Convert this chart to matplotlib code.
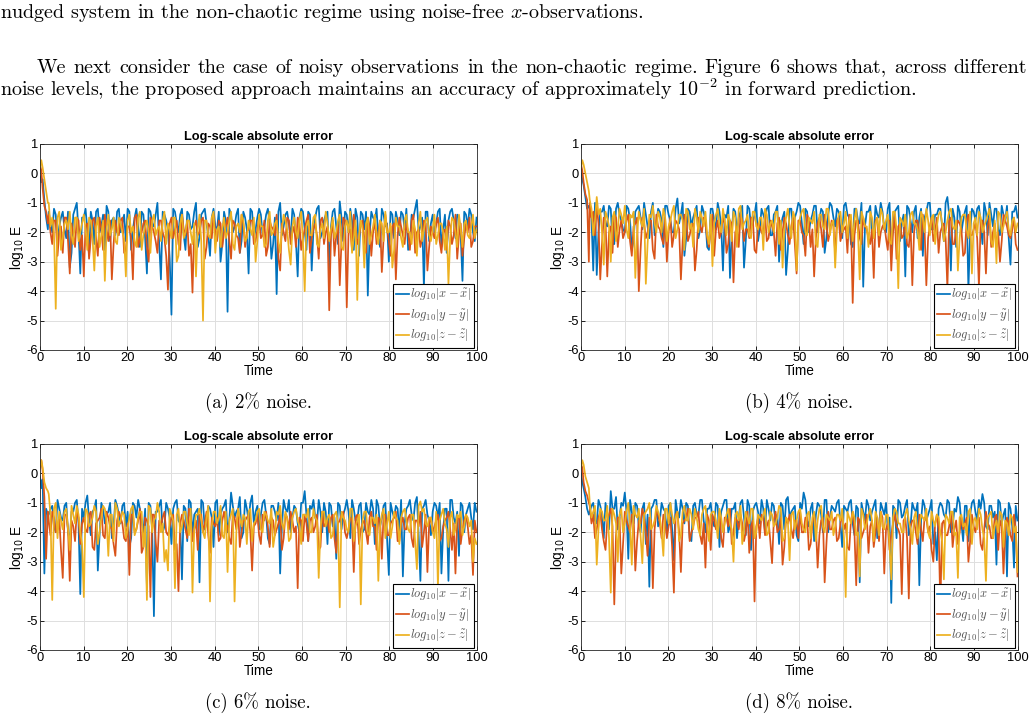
import numpy as np
import matplotlib
matplotlib.use("Agg")
import matplotlib.pyplot as plt

plt.rcParams["font.family"] = ["Liberation Sans", "DejaVu Sans"]
plt.rcParams["axes.unicode_minus"] = False

W, H = 1034, 718
SERIF = ["cmr10", "DejaVu Serif"]

# time grid: dense over the initial transient, then roughly every 0.8,
# plus a second set of samples half-way between the regular ones
T_START = [0, 0.3, 0.6, 1.0, 1.4, 1.8]
T_REST = np.linspace(2, 100, 123)
T_MID = (T_REST[:-1] + T_REST[1:]) / 2

# ---- (a) 2% noise ----
X_ERR_2 = [-0.1, -0.3, -0.2, -0.9, -1.5, -1.9,
           -1.3, -2.0, -1.4, -1.8, -1.3, -2.2, -3.2, -1.4, -1.0, -3.4,
           -1.5, -1.9, -1.3, -2.4, -1.2, -1.8, -2.6, -1.3, -1.6, -2.1,
           -1.2, -1.7, -2.3, -1.3, -1.9, -1.2, -2.5, -1.4, -3.4, -1.3,
           -1.8, -1.0, -3.6, -1.4, -1.9, -4.8, -1.3, -2.0, -1.2, -2.6,
           -1.4, -1.8, -1.0, -2.2, -1.3, -1.7, -2.8, -1.2, -1.9, -3.0,
           -1.3, -4.7, -1.4, -1.8, -1.2, -2.3, -1.5, -3.4, -1.3, -1.9,
           -1.2, -2.1, -1.4, -1.7, -2.4, -4.1, -1.0, -1.8, -1.3, -2.2,
           -1.4, -3.5, -1.2, -1.9, -1.3, -3.3, -1.5, -1.1, -2.0, -1.4,
           -3.3, -1.3, -1.8, -0.95, -2.3, -1.4, -1.2, -2.6, -1.5, -1.3,
           -1.9, -4.15, -1.3, -1.6, -2.2, -1.2, -1.8, -3.0, -1.4, -1.3,
           -2.1, -1.4, -1.2, -2.4, -1.5, -0.9, -1.8, -3.9, -1.3, -1.7,
           -2.0, -1.3, -2.5, -1.4, -1.6, -1.2, -2.2, -1.5, -3.65, -1.4,
           -1.2, -2.0, -1.5]
X_MID_2 = [-1.7, -1.2, -2.3, -1.5, -1.9, -1.3, -2.7, -1.2, -2.0, -1.5,
           -1.2, -2.8, -1.6, -1.3, -2.0, -1.4, -1.1, -2.3, -1.5, -1.3,
           -2.0, -1.4, -1.2, -2.6, -1.5, -1.8, -1.3, -2.2, -1.2, -1.7,
           -1.4, -2.4, -1.3, -1.6, -2.9, -1.2, -1.7, -1.4, -2.1, -1.3,
           -1.9, -1.3, -2.5, -1.4, -1.2, -2.1, -1.5, -1.8, -1.3, -2.4,
           -1.6, -1.2, -2.0, -1.4, -2.7, -1.3, -1.9, -1.2, -2.2, -1.5,
           -1.4, -1.8, -1.2, -2.9, -1.5, -1.3, -2.1, -1.4, -1.7, -1.2,
           -2.3, -1.5, -1.3, -2.6, -1.4, -1.9, -1.2, -2.2, -1.6, -1.3,
           -1.8, -1.2, -2.4, -1.5, -1.3, -2.0, -1.6, -1.2, -2.8, -1.4,
           -1.3, -2.1, -1.5, -1.2, -2.5, -1.4, -1.7, -1.3, -2.2, -1.6,
           -1.3, -1.9, -2.6, -1.4, -1.2, -2.0, -1.5, -1.3, -2.3, -1.4,
           -1.7, -1.2, -1.9, -2.7, -1.3, -1.6, -1.4, -2.1, -1.3, -1.8,
           -1.4, -2.3]
Y_ERR_2 = [0.3, 0.1, -0.5, -1.1, -1.3, -1.7,
           -1.4, -2.4, -1.6, -2.0, -2.7, -1.5, -3.4, -2.1, -1.5, -2.6,
           -3.5, -1.7, -2.2, -1.5, -2.8, -1.9, -1.4, -2.3, -3.6, -1.6,
           -2.1, -1.5, -2.6, -1.8, -3.6, -1.4, -2.2, -1.7, -2.5, -1.5,
           -2.0, -2.7, -1.6, -2.2, -3.95, -1.5, -1.9, -2.4, -1.4, -2.1,
           -2.8, -4.05, -1.6, -2.0, -1.5, -2.5, -1.8, -1.4, -2.3, -1.7,
           -2.0, -1.5, -2.9, -1.7, -2.2, -1.4, -2.5, -1.9, -1.6, -2.3,
           -1.5, -2.1, -2.8, -1.6, -1.9, -1.4, -3.3, -2.0, -1.5, -2.4,
           -1.8, -1.5, -2.6, -1.9, -1.4, -2.2, -1.7, -2.9, -1.5, -2.0,
           -4.65, -1.6, -2.1, -3.8, -1.5, -4.55, -1.9, -1.4, -2.4, -1.7,
           -2.2, -1.5, -2.8, -1.6, -2.0, -3.35, -1.4, -2.3, -1.8, -3.6,
           -1.5, -2.1, -1.7, -2.6, -1.4, -2.0, -2.5, -1.6, -3.3, -1.8,
           -2.2, -1.5, -2.7, -1.9, -1.6, -2.4, -1.4, -2.1, -2.8, -1.7,
           -1.5, -2.3, -1.8]
Y_MID_2 = [-2.0, -1.6, -2.8, -1.8, -1.5, -2.3, -1.7, -2.5, -1.6, -2.1,
           -1.8, -2.9, -1.6, -2.2, -1.5, -2.6, -1.9, -1.6, -2.4, -2.0,
           -1.6, -2.7, -1.8, -2.2, -1.5, -2.5, -2.0, -1.6, -3.0, -1.8,
           -2.3, -1.6, -2.0, -2.8, -1.7, -2.2, -1.6, -2.6, -1.9, -1.6,
           -2.4, -1.8, -2.1, -1.6, -2.9, -1.7, -2.2, -2.0, -1.6, -2.5,
           -1.8, -2.3, -1.6, -2.1, -2.7, -1.7, -2.0, -1.6, -2.4, -1.9,
           -2.2, -1.6, -2.5, -1.8, -2.1, -2.9, -1.7, -2.3, -1.6, -2.0,
           -2.5, -1.7, -2.2, -1.6, -2.7, -1.9, -2.1, -1.6, -2.4, -1.8,
           -2.1, -2.8, -1.7, -2.3, -1.6, -2.0, -2.6, -1.8, -2.2, -1.6,
           -2.7, -1.8, -2.0, -2.4, -1.6, -2.2, -1.9, -2.8, -1.7, -2.1,
           -1.8, -2.4, -2.0, -1.6, -2.7, -1.9, -2.2, -1.7, -2.5, -2.0,
           -1.7, -2.3, -2.0, -2.6, -1.8, -2.1, -2.9, -1.7, -2.2, -2.0,
           -2.5, -1.8]
Z_ERR_2 = [0.2, 0.45, 0.2, -0.2, -0.6, -1.0,
           -1.0, -1.5, -4.6, -1.3, -2.2, -1.6, -1.3, -2.4, -1.5, -2.0,
           -1.4, -2.6, -1.6, -3.3, -1.5, -2.1, -3.65, -1.4, -1.9, -2.3,
           -1.5, -2.0, -3.5, -1.4, -1.8, -2.5, -1.3, -2.1, -1.6, -2.7,
           -1.4, -1.9, -2.3, -1.3, -1.7, -2.2, -1.5, -2.8, -1.4, -2.0,
           -1.6, -2.4, -3.5, -1.4, -5.0, -1.6, -2.2, -1.3, -1.9, -2.5,
           -1.5, -2.0, -1.3, -2.6, -1.7, -1.4, -2.3, -1.6, -2.1, -3.0,
           -1.4, -1.8, -2.4, -1.3, -2.0, -1.6, -2.7, -1.4, -1.9, -3.1,
           -1.5, -2.2, -1.3, -4.0, -1.6, -2.1, -1.4, -2.5, -1.7, -1.3,
           -2.3, -1.5, -2.0, -1.4, -2.6, -1.6, -1.3, -2.2, -4.3, -1.6,
           -3.2, -1.5, -2.1, -1.4, -2.4, -1.7, -1.3, -2.0, -3.2, -1.5,
           -1.8, -2.5, -1.4, -2.0, -1.6, -2.8, -1.3, -1.9, -1.5, -2.3,
           -1.4, -2.1, -1.7, -2.6, -3.75, -1.5, -2.0, -1.4, -2.5, -1.6,
           -2.2, -1.4, -1.9]
Z_MID_2 = [-1.8, -2.0, -1.5, -2.6, -1.7, -1.9, -2.1, -1.5, -2.3, -1.7,
           -1.9, -1.5, -2.2, -1.8, -2.5, -1.6, -1.9, -2.1, -1.5, -2.4,
           -1.7, -2.2, -1.6, -2.0, -2.3, -1.5, -2.6, -1.8, -2.0, -1.6,
           -2.1, -1.8, -1.6, -2.4, -1.9, -1.5, -3.0, -1.7, -2.2, -1.6,
           -2.0, -1.7, -1.9, -2.3, -1.6, -2.1, -1.5, -2.7, -1.8, -1.9,
           -2.2, -1.6, -2.4, -1.8, -2.0, -1.6, -2.2, -1.9, -1.5, -2.3,
           -1.8, -2.5, -1.6, -2.1, -1.7, -2.3, -1.9, -1.6, -2.6, -1.8,
           -2.0, -1.6, -2.3, -1.8, -2.1, -1.5, -2.4, -1.9, -2.2, -1.7,
           -1.9, -2.2, -1.6, -2.5, -1.8, -2.0, -2.7, -1.6, -2.1, -1.9,
           -1.7, -2.4, -1.8, -2.1, -1.6, -2.3, -2.0, -1.7, -2.6, -1.8,
           -2.2, -1.6, -2.0, -2.4, -1.9, -1.7, -2.3, -1.6, -2.1, -1.9,
           -2.4, -1.7, -2.0, -1.8, -2.2, -1.6, -2.5, -1.9, -1.7, -2.1,
           -1.8, -2.2]

# ---- (b) 4% noise ----
X_ERR_4 = [0.0, -0.2, -0.4, -0.8, -1.2, -1.1,
           -1.2, -3.3, -3.45, -1.3, -1.1, -1.8, -1.2, -2.4, -1.0, -1.6,
           -2.0, -1.2, -2.6, -1.3, -1.1, -1.9, -1.4, -2.2, -1.0, -1.7,
           -1.3, -2.5, -1.1, -1.6, -2.0, -0.85, -1.4, -2.8, -1.2, -1.8,
           -1.3, -2.2, -1.1, -1.6, -2.6, -1.2, -1.9, -1.3, -3.3, -1.5,
           -3.55, -1.2, -2.0, -1.3, -3.2, -1.1, -1.8, -1.4, -2.3, -1.2,
           -1.6, -1.1, -2.1, -1.3, -3.0, -1.5, -3.45, -1.2, -1.9, -1.3,
           -1.1, -2.4, -1.3, -1.6, -1.1, -2.0, -1.2, -2.7, -1.4, -1.1,
           -1.8, -1.3, -2.2, -1.0, -1.5, -2.5, -1.2, -1.7, -3.85, -1.3,
           -1.1, -2.1, -1.4, -1.0, -1.9, -1.2, -2.6, -1.3, -1.1, -1.7,
           -3.5, -1.2, -2.0, -1.1, -1.5, -2.8, -1.3, -1.0, -1.9, -1.4,
           -1.2, -2.3, -0.8, -3.3, -1.5, -1.1, -2.0, -1.3, -3.95, -1.2,
           -1.6, -1.1, -2.4, -1.3, -1.0, -1.8, -1.2, -2.1, -1.4, -1.1,
           -3.1, -1.3, -1.5]
X_MID_4 = [-1.5, -1.0, -2.0, -1.3, -1.7, -1.1, -2.4, -1.2, -1.4, -1.9,
           -1.1, -1.6, -2.3, -1.2, -1.5, -1.0, -1.8, -1.3, -2.1, -1.2,
           -1.6, -1.1, -1.4, -2.0, -1.2, -1.7, -1.0, -2.2, -1.3, -1.5,
           -1.1, -1.9, -1.3, -2.5, -1.2, -1.6, -1.0, -1.8, -1.4, -1.1,
           -2.0, -1.3, -1.5, -1.1, -2.3, -1.2, -1.7, -1.0, -1.9, -1.4,
           -1.2, -2.1, -1.4, -1.1, -1.8, -1.3, -2.6, -1.2, -1.5, -1.0,
           -1.7, -1.2, -2.0, -1.4, -1.1, -1.6, -1.3, -2.2, -1.0, -1.5,
           -1.2, -1.9, -1.1, -1.4, -2.4, -1.2, -1.6, -1.0, -1.8, -1.3,
           -2.1, -1.1, -1.5, -1.3, -2.0, -1.0, -1.7, -1.2, -2.3, -1.4,
           -1.1, -1.6, -1.3, -2.2, -1.2, -1.5, -1.0, -1.9, -1.4, -1.2,
           -1.8, -1.0, -1.4, -1.2, -2.5, -1.3, -1.6, -1.1, -2.0, -1.3,
           -1.2, -1.7, -1.0, -2.1, -1.4, -1.2, -1.9, -1.1, -1.6, -2.2,
           -1.3, -1.1]
Y_ERR_4 = [0.3, 0.1, -0.3, -0.7, -0.9, -3.0,
           -1.0, -1.3, -1.1, -3.6, -1.5, -3.5, -1.8, -1.4, -2.5, -1.6,
           -2.0, -1.4, -2.8, -1.7, -4.0, -1.5, -2.2, -1.6, -2.6, -1.4,
           -1.9, -2.4, -3.0, -1.5, -2.1, -1.7, -3.6, -1.4, -2.3, -1.8,
           -3.3, -1.5, -2.0, -1.7, -2.5, -1.4, -1.9, -2.2, -1.5, -2.7,
           -1.6, -3.7, -1.8, -1.4, -2.3, -1.9, -1.5, -2.6, -1.7, -2.0,
           -1.4, -2.2, -1.8, -2.8, -1.5, -2.0, -1.7, -2.4, -1.5, -3.4,
           -1.6, -2.1, -1.4, -2.5, -3.5, -1.7, -1.9, -1.4, -2.3, -1.6,
           -2.7, -1.5, -2.0, -1.8, -1.4, -4.4, -1.6, -2.2, -1.5, -1.9,
           -2.4, -3.55, -1.5, -2.0, -1.7, -2.6, -3.3, -1.4, -1.8, -2.2,
           -1.5, -2.5, -3.8, -1.6, -2.0, -1.4, -3.8, -1.8, -2.3, -1.5,
           -2.0, -1.7, -3.9, -1.5, -2.4, -1.6, -1.9, -2.7, -1.4, -2.1,
           -1.7, -3.85, -1.6, -3.4, -1.5, -2.0, -2.5, -3.0, -1.4, -1.8,
           -2.2, -1.5, -2.6]
Y_MID_4 = [-1.5, -2.1, -1.7, -2.4, -1.6, -2.0, -2.7, -1.5, -1.9, -2.2,
           -1.6, -2.3, -1.8, -1.5, -2.6, -1.7, -2.0, -1.6, -2.9, -1.8,
           -2.2, -1.5, -2.0, -2.5, -1.6, -1.9, -2.3, -1.5, -2.1, -1.7,
           -2.6, -1.8, -1.5, -2.2, -1.9, -2.8, -1.6, -2.0, -1.7, -2.4,
           -1.7, -2.0, -2.5, -1.6, -1.9, -2.2, -1.5, -2.7, -1.8, -2.1,
           -2.3, -1.6, -2.0, -1.7, -2.6, -1.5, -2.1, -1.8, -2.4, -1.6,
           -2.0, -2.8, -1.6, -1.9, -2.2, -1.5, -2.5, -1.7, -2.0, -1.8,
           -1.6, -2.3, -1.9, -2.7, -1.7, -2.1, -1.6, -2.4, -1.8, -2.2,
           -1.9, -1.6, -2.5, -1.8, -2.2, -1.6, -2.0, -2.9, -1.7, -2.1,
           -2.4, -1.7, -2.0, -1.6, -2.6, -1.9, -2.2, -1.5, -2.0, -2.7,
           -1.8, -2.2, -1.6, -2.4, -1.9, -1.7, -2.8, -1.6, -2.1, -1.9,
           -2.2, -1.6, -2.0, -1.8, -2.5, -1.7, -2.0, -2.3, -1.6, -2.1,
           -1.9, -2.4]
Z_ERR_4 = [0.2, 0.45, 0.3, 0.0, -0.3, -0.6,
           -0.9, -2.1, -0.8, -1.2, -3.1, -1.5, -3.0, -1.3, -1.9, -1.4,
           -1.1, -2.2, -1.5, -3.55, -1.3, -1.8, -3.75, -1.4, -1.1, -2.0,
           -1.5, -1.2, -2.3, -1.6, -1.1, -1.9, -1.4, -2.6, -1.3, -1.7,
           -1.2, -2.0, -1.5, -1.3, -2.4, -3.15, -1.4, -1.8, -1.2, -2.1,
           -1.6, -1.3, -2.5, -1.1, -1.7, -1.4, -2.2, -1.3, -1.9, -1.5,
           -1.2, -2.0, -1.6, -1.3, -2.4, -3.2, -1.5, -1.8, -1.3, -3.3,
           -1.5, -1.2, -2.1, -1.6, -1.3, -2.5, -1.4, -1.9, -1.2, -1.7,
           -3.2, -1.4, -2.0, -1.3, -1.6, -2.3, -1.2, -3.6, -1.5, -1.8,
           -1.3, -2.2, -1.5, -1.2, -1.9, -1.4, -2.4, -1.3, -3.9, -1.6,
           -1.4, -2.0, -1.3, -1.7, -2.6, -1.5, -1.2, -2.1, -1.4, -1.8,
           -1.3, -2.3, -1.6, -1.2, -1.9, -3.3, -1.5, -1.4, -2.2, -3.4,
           -1.5, -1.3, -2.0, -1.6, -1.2, -2.5, -3.05, -1.4, -1.8, -1.3,
           -2.1, -1.5, -1.7]
Z_MID_4 = [-1.2, -1.6, -1.4, -2.0, -1.3, -1.8, -1.5, -2.3, -1.2, -1.7,
           -1.9, -1.4, -1.3, -2.1, -1.6, -1.2, -2.4, -1.5, -1.7, -1.3,
           -2.0, -1.5, -1.8, -1.3, -2.2, -1.4, -1.6, -1.2, -1.9, -2.5,
           -1.5, -1.3, -1.8, -2.1, -1.4, -1.7, -1.2, -2.0, -1.6, -1.4,
           -2.3, -1.5, -1.2, -1.9, -1.6, -2.1, -1.3, -1.8, -1.5, -2.6,
           -1.4, -1.7, -2.0, -1.3, -1.6, -1.9, -1.2, -2.2, -1.5, -1.8,
           -1.3, -2.0, -1.5, -1.7, -2.4, -1.4, -1.8, -1.2, -2.1, -1.6,
           -1.9, -1.3, -1.7, -2.2, -1.4, -1.6, -2.0, -1.3, -1.8, -2.5,
           -1.5, -1.7, -2.1, -1.4, -1.6, -2.3, -1.3, -1.9, -1.5, -1.8,
           -2.2, -1.4, -1.7, -1.9, -1.3, -2.0, -1.6, -1.5, -2.4, -1.4,
           -1.7, -2.0, -1.3, -1.8, -1.6, -2.2, -1.4, -1.9, -1.3, -1.7,
           -2.1, -1.5, -1.8, -1.4, -2.3, -1.6, -1.3, -2.0, -1.5, -1.9,
           -1.6, -2.0]

# ---- (c) 6% noise ----
X_ERR_6 = [-0.1, -0.5, -0.2, -3.4, -1.2, -1.4,
           -1.4, -1.1, -2.0, -1.2, -1.6, -1.0, -2.3, -1.3, -0.9, -4.1,
           -1.5, -0.75, -2.1, -1.2, -3.3, -1.0, -1.7, -1.3, -2.2, -0.9,
           -1.4, -1.1, -1.8, -2.5, -1.0, -1.5, -1.2, -2.0, -3.85, -1.1,
           -4.85, -1.3, -0.9, -1.8, -1.2, -2.4, -1.0, -1.6, -3.6, -1.2,
           -0.9, -2.1, -1.3, -3.7, -1.0, -1.7, -1.2, -2.5, -0.9, -1.4,
           -1.1, -2.0, -0.65, -1.5, -1.2, -2.2, -0.9, -1.6, -0.75, -1.3,
           -1.9, -1.0, -1.4, -2.4, -1.1, -1.6, -3.4, -0.9, -1.3, -2.0,
           -1.1, -1.7, -1.0, -0.6, -2.3, -1.2, -1.5, -0.9, -2.0, -1.3,
           -1.0, -1.8, -2.9, -1.1, -1.4, -0.9, -2.2, -1.2, -1.6, -1.0,
           -1.9, -1.3, -0.9, -2.4, -1.1, -1.5, -1.0, -3.45, -1.3, -1.1,
           -2.0, -3.5, -1.2, -0.9, -1.6, -0.8, -3.65, -1.1, -1.4, -2.1,
           -1.0, -1.5, -3.4, -1.2, -3.65, -0.9, -1.7, -2.8, -1.1, -1.4,
           -1.0, -1.9, -1.3]
X_MID_6 = [-1.2, -1.8, -0.9, -1.5, -1.1, -2.0, -1.3, -1.0, -1.7, -1.2,
           -1.0, -1.6, -1.3, -0.9, -2.1, -1.2, -1.4, -1.0, -1.8, -1.1,
           -1.7, -1.0, -1.3, -2.2, -1.1, -0.9, -1.6, -1.2, -1.0, -1.9,
           -1.3, -1.1, -2.0, -1.0, -1.5, -1.2, -0.9, -1.7, -1.1, -2.3,
           -1.0, -1.4, -1.2, -0.9, -1.9, -1.1, -1.5, -1.0, -2.1, -1.2,
           -0.9, -1.6, -1.1, -1.3, -0.8, -2.0, -1.2, -1.0, -1.7, -1.1,
           -1.4, -0.9, -2.2, -1.1, -1.3, -1.0, -1.8, -1.2, -0.9, -1.5,
           -1.2, -2.0, -1.0, -1.4, -1.1, -0.9, -1.7, -1.3, -1.0, -2.4,
           -1.1, -1.5, -1.0, -1.9, -1.2, -1.3, -0.9, -1.6, -1.1, -2.0,
           -1.0, -1.4, -1.2, -0.9, -1.8, -1.1, -2.2, -1.0, -1.5, -1.2,
           -0.9, -1.7, -1.1, -1.4, -1.0, -2.1, -1.2, -0.9, -1.6, -1.3,
           -1.1, -1.0, -1.9, -1.2, -0.9, -1.5, -1.3, -1.0, -2.0, -1.2,
           -1.5, -1.0]
Y_ERR_6 = [0.3, 0.45, 0.1, -0.8, -2.9, -1.3,
           -1.6, -1.3, -2.0, -1.5, -3.55, -1.4, -3.65, -1.8, -1.3, -2.4,
           -1.5, -2.0, -1.3, -2.6, -1.6, -1.2, -2.2, -1.5, -1.9, -2.8,
           -1.3, -1.7, -2.3, -3.45, -1.4, -1.9, -1.2, -2.5, -1.6, -4.2,
           -1.4, -3.0, -1.8, -1.3, -2.1, -1.5, -2.6, -4.0, -1.4, -1.9,
           -1.2, -2.3, -1.6, -1.4, -2.0, -1.3, -2.7, -1.7, -1.5, -2.2,
           -1.3, -1.8, -2.4, -1.5, -1.2, -2.0, -1.6, -1.4, -3.3, -1.7,
           -2.1, -1.4, -1.3, -2.5, -1.6, -1.9, -1.4, -2.2, -1.5, -1.3,
           -2.0, -3.9, -1.6, -1.4, -2.3, -1.5, -1.8, -2.6, -1.3, -1.7,
           -2.0, -1.4, -2.7, -1.6, -1.3, -2.2, -1.5, -3.35, -1.4, -1.9,
           -1.6, -2.4, -1.3, -1.8, -1.5, -2.9, -1.4, -2.1, -1.6, -1.3,
           -2.3, -1.5, -1.9, -1.4, -2.5, -1.6, -1.3, -2.0, -3.35, -1.5,
           -1.8, -1.4, -2.2, -1.6, -1.3, -2.6, -3.4, -1.5, -1.9, -1.4,
           -2.4, -3.45, -2.0]
Y_MID_6 = [-2.1, -1.5, -1.8, -2.6, -1.4, -1.9, -1.6, -2.3, -1.5, -1.7,
           -1.9, -1.4, -2.5, -1.7, -1.5, -2.1, -1.3, -1.8, -2.4, -1.6,
           -1.5, -2.2, -1.7, -1.4, -2.0, -1.6, -2.7, -1.5, -1.8, -1.4,
           -2.3, -1.6, -1.5, -2.0, -1.8, -1.4, -2.4, -1.7, -1.6, -2.2,
           -1.5, -1.9, -2.6, -1.4, -1.7, -2.1, -1.5, -1.8, -2.3, -1.6,
           -1.7, -2.2, -1.4, -1.9, -2.5, -1.6, -1.5, -2.0, -1.8, -1.4,
           -2.4, -1.6, -1.8, -1.5, -2.1, -1.7, -2.6, -1.4, -1.9, -1.6,
           -1.8, -1.5, -2.3, -1.7, -1.6, -2.0, -1.4, -2.5, -1.8, -1.6,
           -1.5, -2.2, -1.7, -1.4, -2.0, -1.9, -1.6, -1.5, -2.4, -1.7,
           -2.0, -1.5, -1.8, -2.6, -1.6, -1.4, -2.1, -1.7, -1.5, -2.3,
           -1.7, -1.9, -1.5, -2.2, -1.6, -1.8, -2.5, -1.4, -1.7, -2.0,
           -1.6, -2.3, -1.8, -1.5, -1.9, -1.7, -1.5, -2.4, -1.6, -1.8,
           -2.1, -1.6]
Z_ERR_6 = [0.2, 0.45, 0.2, -0.3, -0.5, -0.6,
           -0.7, -4.3, -1.0, -1.3, -1.9, -1.2, -2.6, -1.4, -1.1, -2.0,
           -4.2, -1.3, -1.7, -1.1, -2.4, -1.5, -1.2, -2.8, -1.4, -1.0,
           -1.8, -1.3, -2.2, -1.5, -1.1, -1.9, -1.3, -2.5, -4.3, -1.2,
           -1.6, -1.0, -2.0, -3.0, -3.3, -1.4, -3.9, -1.2, -1.8, -1.3,
           -2.1, -4.05, -1.4, -1.2, -2.0, -1.5, -4.35, -1.3, -1.7, -1.1,
           -2.2, -3.35, -1.4, -4.35, -1.2, -1.8, -1.5, -1.3, -2.3, -1.6,
           -1.2, -2.0, -1.4, -1.7, -2.5, -1.3, -1.1, -1.9, -1.5, -2.2,
           -1.3, -1.6, -2.4, -1.4, -1.2, -2.0, -1.5, -3.55, -1.3, -1.8,
           -1.4, -2.1, -1.3, -4.55, -1.5, -1.9, -1.2, -2.3, -1.6, -4.45,
           -1.3, -2.0, -1.5, -1.7, -3.65, -1.4, -2.2, -1.3, -1.8, -1.5,
           -2.4, -1.3, -1.6, -2.0, -1.4, -3.25, -0.95, -1.2, -1.8, -1.5,
           -2.2, -3.85, -1.4, -1.7, -2.5, -1.3, -1.9, -1.5, -2.1, -1.4,
           -1.8, -3.0, -2.4]
Z_MID_6 = [-1.4, -1.2, -2.2, -1.6, -1.3, -1.9, -1.1, -1.7, -1.4, -2.4,
           -1.2, -1.8, -1.5, -1.3, -2.0, -1.1, -1.6, -1.4, -2.3, -1.2,
           -1.6, -1.4, -1.9, -1.2, -2.1, -1.5, -1.3, -1.8, -1.1, -2.0,
           -1.5, -1.3, -1.7, -2.6, -1.2, -1.6, -1.4, -2.0, -1.3, -1.7,
           -1.2, -1.9, -1.4, -1.6, -2.2, -1.1, -1.8, -1.3, -1.5, -2.1,
           -1.3, -1.6, -1.2, -2.0, -1.5, -1.4, -2.4, -1.2, -1.7, -1.3,
           -1.9, -1.3, -1.6, -1.2, -2.1, -1.4, -1.7, -1.3, -2.3, -1.5,
           -1.2, -1.8, -1.4, -1.5, -2.0, -1.2, -1.6, -1.9, -1.3, -1.5,
           -2.2, -1.4, -1.7, -1.3, -1.6, -2.0, -1.2, -1.8, -1.4, -1.6,
           -1.3, -2.1, -1.5, -1.4, -1.8, -1.2, -1.7, -2.2, -1.3, -1.6,
           -1.5, -1.2, -1.9, -1.4, -2.3, -1.1, -1.3, -1.7, -1.5, -2.0,
           -1.3, -1.6, -1.2, -1.9, -1.5, -2.1, -1.4, -1.3, -1.8, -1.5,
           -1.6, -2.2]

# ---- (d) 8% noise ----
X_ERR_8 = [0.0, -0.3, -0.5, -0.8, -1.2, -1.4,
           -1.3, -1.0, -1.7, -1.1, -2.2, -1.4, -0.6, -1.2, -1.9, -1.0,
           -0.65, -2.9, -1.3, -1.0, -1.8, -1.2, -2.4, -3.85, -1.1, -0.9,
           -1.6, -1.2, -2.1, -1.0, -2.95, -1.3, -0.9, -1.7, -1.1, -2.3,
           -1.0, -1.4, -0.9, -2.0, -1.2, -1.6, -1.0, -2.5, -1.1, -0.9,
           -1.8, -1.2, -2.2, -1.0, -1.5, -0.9, -2.6, -1.1, -1.3, -0.9,
           -2.0, -1.2, -1.0, -1.7, -2.4, -1.1, -0.9, -1.5, -1.2, -2.1,
           -1.0, -0.65, -1.6, -1.2, -2.3, -1.0, -1.4, -0.9, -2.0, -1.1,
           -1.3, -0.9, -2.5, -1.2, -1.0, -1.7, -1.1, -3.7, -1.3, -0.9,
           -1.6, -1.1, -2.2, -1.0, -1.4, -1.9, -4.4, -1.2, -0.9, -1.5,
           -1.1, -2.1, -1.0, -1.3, -3.8, -0.9, -1.6, -1.2, -2.4, -2.95,
           -1.0, -1.4, -0.9, -2.0, -1.2, -0.8, -1.7, -1.1, -2.3, -1.0,
           -1.3, -0.9, -0.7, -1.8, -1.1, -1.5, -3.1, -1.0, -1.4, -3.5,
           -1.2, -3.2, -1.6]
X_MID_8 = [-1.1, -1.6, -0.9, -1.4, -1.0, -1.9, -1.2, -0.8, -1.5, -1.1,
           -1.3, -0.9, -1.7, -1.1, -2.0, -1.0, -1.4, -1.2, -0.9, -1.8,
           -1.0, -1.3, -1.1, -1.9, -0.9, -1.5, -1.2, -1.0, -2.2, -1.1,
           -1.4, -0.9, -1.6, -1.2, -1.0, -1.8, -1.1, -1.3, -0.9, -2.0,
           -1.2, -1.0, -1.5, -0.9, -2.1, -1.1, -1.3, -1.0, -1.7, -1.2,
           -0.9, -1.6, -1.1, -1.4, -1.0, -1.9, -0.8, -1.3, -1.1, -2.3,
           -1.2, -0.9, -1.8, -1.0, -1.4, -1.1, -2.0, -0.9, -1.5, -1.2,
           -1.0, -1.7, -1.1, -1.3, -0.9, -2.1, -1.2, -1.0, -1.6, -1.1,
           -1.3, -0.9, -1.9, -1.2, -1.0, -1.5, -1.1, -2.2, -1.0, -1.4,
           -0.9, -1.8, -1.2, -1.0, -1.6, -1.1, -1.4, -0.9, -2.0, -1.2,
           -1.1, -1.5, -1.0, -1.8, -1.3, -1.0, -2.3, -1.1, -1.4, -0.9,
           -1.6, -1.2, -1.0, -1.9, -1.1, -1.3, -0.9, -1.7, -1.2, -1.0,
           -1.8, -1.1]
Y_ERR_8 = [0.3, 0.2, -0.3, -0.6, -0.75, -1.0,
           -1.1, -1.4, -1.9, -1.3, -2.3, -1.6, -1.2, -4.45, -1.5, -3.4,
           -1.3, -1.8, -1.4, -3.3, -1.6, -1.2, -2.0, -1.5, -3.9, -1.3,
           -1.7, -1.4, -2.2, -1.5, -4.05, -1.3, -3.35, -1.6, -1.2, -2.0,
           -1.5, -1.3, -2.4, -3.2, -1.6, -1.4, -1.9, -1.3, -2.5, -1.5,
           -1.2, -2.0, -1.6, -1.4, -2.3, -1.3, -1.8, -4.35, -1.5, -1.4,
           -2.1, -1.6, -3.05, -1.3, -1.9, -3.1, -1.5, -1.4, -2.2, -1.6,
           -1.3, -2.0, -1.5, -2.4, -1.4, -3.2, -1.6, -3.7, -1.3, -1.9,
           -1.5, -2.2, -1.4, -1.7, -2.6, -1.3, -3.8, -1.6, -2.0, -1.4,
           -1.8, -2.5, -1.5, -1.3, -3.4, -1.7, -2.1, -1.4, -1.9, -4.1,
           -1.5, -4.25, -1.6, -2.0, -1.4, -2.3, -1.5, -1.8, -3.0, -1.4,
           -4.55, -1.6, -2.1, -1.3, -1.9, -2.4, -1.5, -1.7, -3.0, -1.4,
           -2.0, -1.5, -2.6, -1.3, -1.8, -2.2, -1.4, -1.6, -3.4, -1.5,
           -2.1, -1.4, -3.5]
Y_MID_8 = [-1.7, -2.2, -1.5, -1.9, -2.6, -1.4, -1.8, -2.1, -1.5, -2.4,
           -1.6, -2.0, -1.4, -2.3, -1.7, -1.5, -2.8, -1.6, -1.9, -1.4,
           -2.2, -1.6, -1.8, -2.5, -1.4, -2.0, -1.7, -1.5, -2.3, -1.8,
           -1.5, -2.1, -1.7, -1.4, -2.6, -1.6, -1.9, -2.2, -1.5, -1.8,
           -2.4, -1.5, -1.9, -1.7, -2.0, -2.7, -1.6, -1.8, -2.2, -1.5,
           -1.8, -2.3, -1.6, -2.0, -1.5, -2.5, -1.7, -1.9, -1.6, -2.2,
           -2.0, -1.5, -2.6, -1.7, -1.8, -2.1, -1.5, -2.4, -1.9, -1.6,
           -2.3, -1.7, -1.9, -2.5, -1.6, -2.0, -1.5, -2.2, -1.8, -2.7,
           -1.6, -2.0, -2.3, -1.5, -1.9, -2.6, -1.7, -1.8, -2.1, -1.6,
           -2.2, -1.8, -1.6, -2.4, -1.9, -1.5, -2.0, -2.6, -1.7, -1.9,
           -1.7, -2.1, -1.8, -2.5, -1.6, -2.0, -1.9, -1.5, -2.3, -1.8,
           -1.6, -2.4, -1.9, -1.7, -2.2, -1.5, -2.6, -1.8, -2.0, -1.7,
           -2.3, -1.9]
Z_ERR_8 = [0.2, 0.45, 0.3, -0.1, -0.3, -0.5,
           -1.0, -1.3, -3.1, -1.2, -1.6, -1.1, -4.05, -1.4, -3.0, -1.2,
           -1.7, -1.0, -3.1, -1.4, -1.2, -3.05, -1.3, -1.0, -1.8, -1.1,
           -1.5, -2.8, -1.2, -1.0, -1.7, -1.3, -2.1, -1.1, -1.6, -1.4,
           -1.2, -1.9, -1.4, -1.1, -2.3, -1.3, -1.6, -1.2, -2.0, -1.4,
           -1.7, -3.0, -1.3, -1.1, -1.9, -1.5, -1.2, -2.2, -1.4, -1.6,
           -1.2, -2.0, -1.4, -1.7, -1.1, -2.3, -1.5, -2.95, -1.3, -1.6,
           -1.2, -1.9, -1.4, -2.2, -1.3, -1.6, -1.1, -2.0, -1.5, -1.3,
           -1.8, -1.4, -1.2, -4.2, -1.5, -1.3, -2.1, -3.5, -1.4, -1.7,
           -1.2, -2.3, -1.5, -1.3, -1.9, -1.4, -3.6, -1.2, -1.7, -2.0,
           -1.4, -1.6, -2.4, -1.3, -1.8, -1.5, -1.2, -2.2, -1.6, -1.4,
           -2.0, -3.6, -1.5, -1.3, -2.1, -3.55, -1.4, -1.7, -1.3, -2.4,
           -1.5, -1.2, -1.9, -3.65, -1.4, -2.2, -1.6, -1.3, -2.5, -1.7,
           -1.4, -2.0, -3.35]
Z_MID_8 = [-1.5, -1.1, -1.9, -1.3, -1.6, -2.2, -1.2, -1.7, -1.4, -2.0,
           -1.3, -1.8, -1.1, -1.5, -2.1, -1.4, -1.2, -1.9, -1.6, -1.3,
           -2.0, -1.2, -1.7, -1.4, -1.5, -2.3, -1.3, -1.6, -1.2, -1.9,
           -1.5, -2.1, -1.2, -1.8, -1.4, -1.3, -2.2, -1.5, -1.7, -1.2,
           -1.9, -1.4, -1.6, -2.4, -1.3, -1.7, -1.2, -2.0, -1.5, -1.4,
           -2.1, -1.3, -1.8, -1.5, -1.2, -2.2, -1.6, -1.4, -1.9, -1.3,
           -1.7, -2.0, -1.3, -1.5, -2.3, -1.2, -1.8, -1.4, -1.6, -2.1,
           -1.4, -1.6, -2.2, -1.3, -1.7, -1.5, -2.0, -1.2, -1.9, -1.4,
           -1.6, -1.3, -2.1, -1.8, -1.4, -2.4, -1.5, -1.3, -1.7, -2.0,
           -1.2, -1.9, -1.5, -2.2, -1.4, -1.6, -2.0, -1.3, -1.8, -1.5,
           -2.3, -1.4, -1.7, -1.3, -2.0, -1.5, -1.8, -2.1, -1.2, -1.6,
           -1.9, -1.4, -2.2, -1.5, -1.3, -1.8, -2.0, -1.4, -1.6, -2.1,
           -1.5, -1.8]

CAPTIONS = ["(a) 2% noise.", "(b) 4% noise.", "(c) 6% noise.", "(d) 8% noise."]
SERIES = [((X_ERR_2, X_MID_2), (Y_ERR_2, Y_MID_2), (Z_ERR_2, Z_MID_2)),
          ((X_ERR_4, X_MID_4), (Y_ERR_4, Y_MID_4), (Z_ERR_4, Z_MID_4)),
          ((X_ERR_6, X_MID_6), (Y_ERR_6, Y_MID_6), (Z_ERR_6, Z_MID_6)),
          ((X_ERR_8, X_MID_8), (Y_ERR_8, Y_MID_8), (Z_ERR_8, Z_MID_8))]
LEGEND = [r"$log_{10}|x-\tilde{x}|$", r"$log_{10}|y-\tilde{y}|$",
          r"$log_{10}|z-\tilde{z}|$"]
COLORS = ["#0072BD", "#D95319", "#EDB120"]

# axes boxes in pixels: left, top
BOXES = [(40, 144), (581, 144), (40, 444), (581, 444)]
AX_W, AX_H = 436.5, 206

T_ALL = np.concatenate([T_START, T_REST, T_MID])
ORDER = np.argsort(T_ALL)

fig = plt.figure(figsize=(W / 100, H / 100), dpi=100)


def px(x, y):
    return x / W, 1 - y / H


def justify(words, x0, x1, y, **kw):
    """Lay out one justified line of body text between x0 and x1 (pixels)."""
    r = fig.canvas.get_renderer()
    arts = [fig.text(*px(x0, y), w, **kw) for w in words]
    widths = [a.get_window_extent(r).width for a in arts]
    gap = (x1 - x0 - sum(widths)) / (len(words) - 1)
    x = x0
    for a, w in zip(arts, widths):
        a.set_position(px(x, y))
        x += w + gap


body = dict(family=SERIF, fontsize=14.5, va="baseline", math_fontfamily="cm")
fig.text(*px(0, 18), "nudged system in the non-chaotic regime using noise-free "
         r"$x$-observations.", **body)
justify("We next consider the case of noisy observations in the non-chaotic "
        "regime. Figure 6 shows that, across different".split(),
        37, 1027, 73, **body)
fig.text(*px(0, 96), "noise levels, the proposed approach maintains an accuracy "
         r"of approximately $10^{-2}$ in forward prediction.", **body)

for (left, top), cap, ser in zip(BOXES, CAPTIONS, SERIES):
    ax = fig.add_axes([left / W, 1 - (top + AX_H) / H, AX_W / W, AX_H / H])
    for (vals, mids), c, lab in zip(ser, COLORS, LEGEND):
        v = np.concatenate([vals, mids])[ORDER]
        ax.plot(T_ALL[ORDER], v, color=c, lw=1.25, label=lab)
    ax.set_xlim(0, 100)
    ax.set_ylim(-6, 1)
    ax.set_xticks(range(0, 101, 10))
    ax.set_yticks(range(-6, 2))
    ax.tick_params(direction="in", top=True, right=True, length=3,
                   width=0.6, labelsize=9.3, pad=1.5)
    ax.grid(color="#dedede", lw=0.7)
    for s in ax.spines.values():
        s.set_linewidth(0.6)
        s.set_color("#262626")
    ax.set_title("Log-scale absolute error", fontsize=9.2, fontweight="bold",
                 pad=3)
    ax.set_xlabel("Time", fontsize=9.8, labelpad=0)
    ax.set_ylabel("log$_{10}$ E", fontsize=9.8, labelpad=0,
                  math_fontfamily="dejavusans")
    leg = ax.legend(loc="lower right", fancybox=False, framealpha=1,
                    edgecolor="black", handlelength=1.0, handletextpad=0.1,
                    borderpad=0.25, labelspacing=0.35, borderaxespad=0.2,
                    labelcolor="#555555",
                    prop={"size": 9, "math_fontfamily": "cm"})
    leg.get_frame().set_linewidth(0.8)
    fig.text(*px(left + AX_W / 2, top + 264), cap, family=SERIF,
             fontsize=13.5, ha="center", va="baseline")

fig.savefig("out.png", dpi=100)
